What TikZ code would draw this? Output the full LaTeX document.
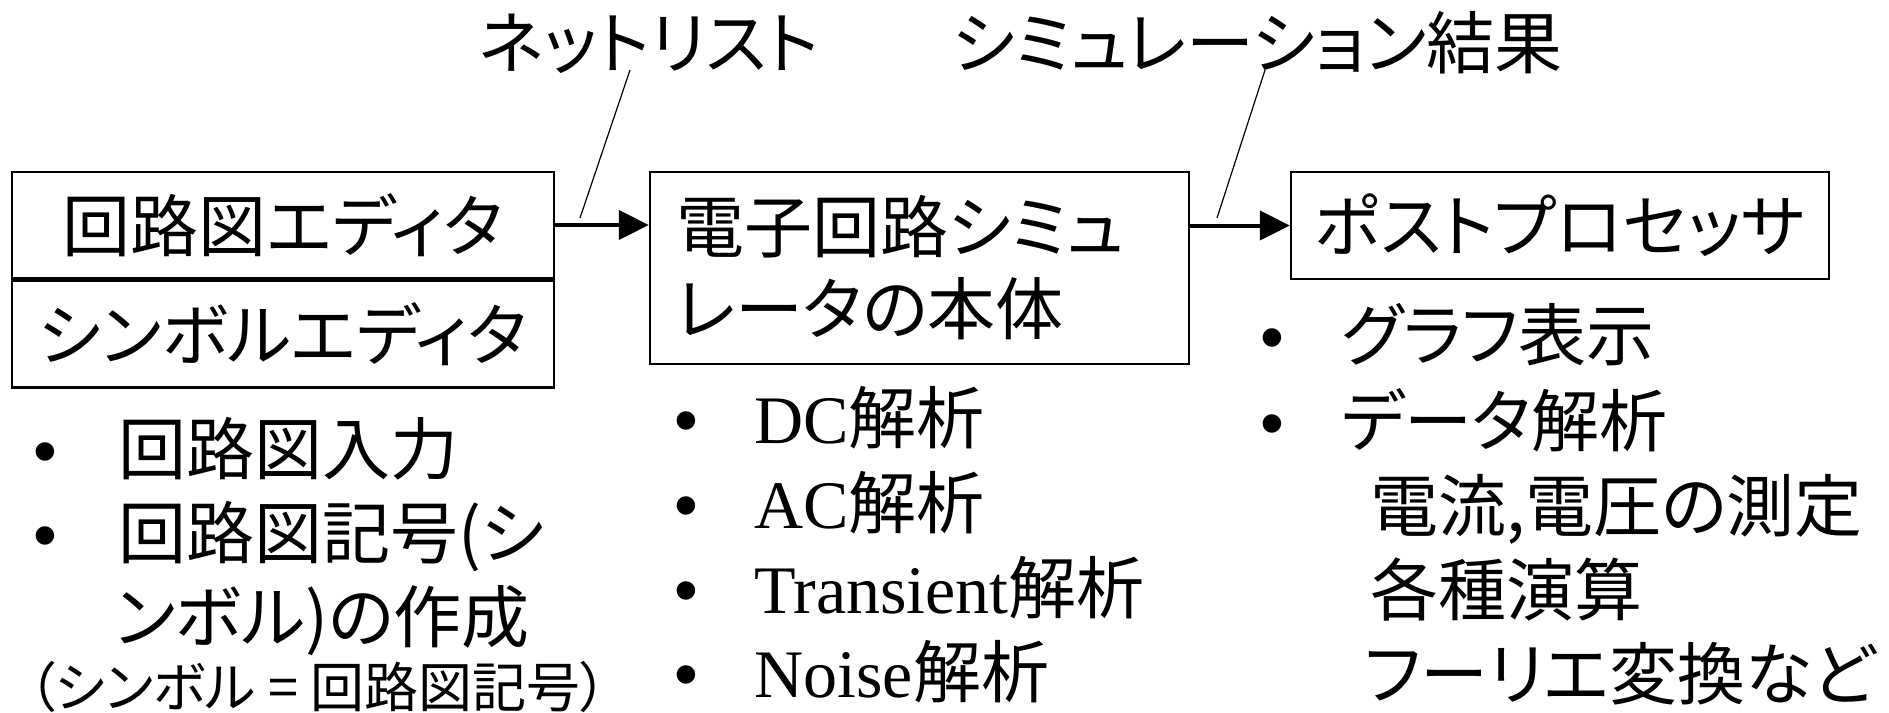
\documentclass[tikz,border=0pt]{standalone}
\usepackage{fontspec}
\setmainfont{Liberation Serif}
\newfontfamily\jp[RawFeature=+palt]{Noto Sans CJK JP}
\newfontfamily\arialf{Liberation Sans}
\usetikzlibrary{arrows.meta}
\newcommand\bulA{\makebox[42.5pt][l]{\arialf •}}
\newcommand\bulB{\makebox[40pt][l]{\arialf •}}
\newcommand\bulC{\makebox[40.5pt][l]{\arialf •}}
\newcommand\tms{\fontspec{Liberation Serif}}
\begin{document}
\begin{tikzpicture}[x=0.5pt,y=-0.5pt,
  jpfont/.style={font=\jp\fontsize{34}{41}\selectfont},
  box/.style={draw, line width=1.2pt, inner sep=0pt, jpfont},
  lbl/.style={jpfont, inner sep=0pt, text height=29.9pt, text depth=4.1pt},
  item/.style={lbl, anchor=west},
  smallitem/.style={item, font=\jp\fontsize{27}{32}\selectfont, text height=23.8pt, text depth=3.2pt},
  conn/.style={line width=2pt, -{Triangle[length=15pt,width=14.5pt]}},
  leader/.style={line width=0.6pt}]
\useasboundingbox (0,0) rectangle (1889,712);
% boxes
\node[box, minimum width=271pt, minimum height=53pt] (ed1) at (283,225) {回路図エディタ};
\node[box, minimum width=271pt, minimum height=53.5pt, anchor=north] (ed2) at (ed1.south) {シンボルエディタ};
\node[box, minimum width=269.5pt, minimum height=96pt, text width=243.5pt, align=left, inner xsep=13pt] (sim) at (919.5,268) {電子回路シミュ\\レータの本体};
\node[box, minimum width=269pt, minimum height=53.5pt] (post) at (1560,225.5) {ポストプロセッサ};
% connectors
\draw[conn] (ed1.east) -- (ed1.east -| sim.west);
\draw[conn] (sim.east |- post.west) -- (post.west);
% top labels
\node[lbl] (net) at (649,43) {ネットリスト};
\node[lbl] (res) at (1257,43) {シミュレーション結果};
\coordinate (nA) at (630,70);
\coordinate (nB) at (580,218);
\coordinate (sA) at (1265,70);
\coordinate (sB) at (1217,218);
\draw[leader] (nA) -- (nB);
\draw[leader] (sA) -- (sB);
% left list
\node[item] (l1) at (33,449) {\bulA 回路図入力};
\node[item] (l2) at (33,533) {\bulA 回路図記号(シ};
\node[item] (l3) at (115,617) {ンボル)の作成};
\node[smallitem] (l4) at (28,687) {（シンボル = 回路図記号）};
% middle list
\node[item] (m1) at (674,418) {\bulB{\tms DC}解析};
\node[item] (m2) at (674,503) {\bulB{\tms AC}解析};
\node[item] (m3) at (674,588) {\bulB{\tms Transient}解析};
\node[item] (m4) at (674,672) {\bulB{\tms Noise}解析};
% right list
\node[item] (r1) at (1260,335) {\bulC グラフ表示};
\node[item] (r2) at (1260,421) {\bulC データ解析};
\node[item] (r3) at (1370,506) {電流,電圧の測定};
\node[item] (r4) at (1370,590) {各種演算};
\node[item] (r5) at (1364,674) {フーリエ変換など};
\end{tikzpicture}
\end{document}
